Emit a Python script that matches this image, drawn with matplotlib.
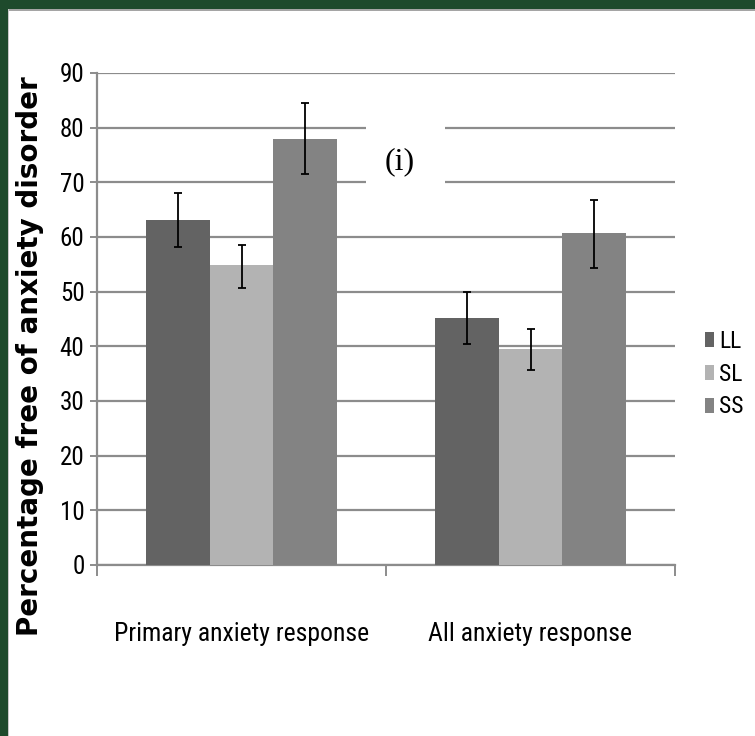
import numpy as np
import matplotlib.pyplot as plt
from matplotlib.patches import Rectangle
import logging

logging.getLogger("matplotlib.font_manager").setLevel(logging.ERROR)

categories = ["Primary anxiety response", "All anxiety response"]
series = ["LL", "SL", "SS"]
LL = [63.1, 45.2]
SL = [54.9, 39.6]
SS = [78.0, 60.8]
# error bar ends (lower, upper)
LL_lo = [58.1, 40.5]
LL_hi = [68.0, 50.0]
SL_lo = [50.7, 35.7]
SL_hi = [58.5, 43.2]
SS_lo = [71.6, 54.4]
SS_hi = [84.6, 66.8]
yticks = [0, 10, 20, 30, 40, 50, 60, 70, 80, 90]

colors = ["#636363", "#b3b3b3", "#838383"]
grid_col = "#8c8c8c"
narrow = ["Roboto Condensed", "Liberation Sans Narrow", "Lato", "DejaVu Sans"]

fig = plt.figure(figsize=(7.55, 7.36), dpi=100)
ax = fig.add_axes([97 / 755, 1 - 565 / 736, (675 - 97) / 755, (565 - 73) / 736])

x = np.arange(len(categories))
w = 0.22
vals = [LL, SL, SS]
lows = [LL_lo, SL_lo, SS_lo]
highs = [LL_hi, SL_hi, SS_hi]
for i, (name, v, lo, hi) in enumerate(zip(series, vals, lows, highs)):
    v = np.array(v)
    err = [v - np.array(lo), np.array(hi) - v]
    ax.bar(x + (i - 1) * w, v, w, color=colors[i], label=name, zorder=3,
           yerr=err, error_kw=dict(ecolor="black", elinewidth=1.3, capsize=3, capthick=1.3, zorder=4))

ax.set_xlim(-0.5, 1.5)
ax.set_ylim(0, 90)
ax.set_yticks(yticks)
ax.yaxis.grid(True, color=grid_col, linewidth=1.6, zorder=0)
ax.set_axisbelow(True)
for s in ["top", "right"]:
    ax.spines[s].set_visible(False)
ax.spines["left"].set_color(grid_col)
ax.spines["left"].set_linewidth(1.6)
ax.spines["bottom"].set_color(grid_col)
ax.spines["bottom"].set_linewidth(1.6)

ax.tick_params(axis="y", length=5, width=1.4, color=grid_col, pad=4, labelsize=18)
for lab in ax.get_yticklabels():
    lab.set_family(narrow)

ax.set_xticks(x)
ax.set_xticklabels(categories, family=narrow, fontsize=18.5)
ax.tick_params(axis="x", which="major", length=0, pad=41)
ax.set_xticks([-0.5, 0.5, 1.5], minor=True)
ax.tick_params(axis="x", which="minor", length=8, width=1.4, color=grid_col)

# white box behind the panel label, cutting the 70 and 80 gridlines
ax.add_patch(Rectangle((0.431, 67), 0.273, 16, facecolor="white", edgecolor="none", zorder=1))
ax.text(0.546, 73.8, "(i)", family=["Liberation Serif", "DejaVu Serif"], fontsize=23,
        ha="center", va="center", zorder=5)

fig.text(30 / 755, 1 - 356 / 736, "Percentage free of anxiety disorder", rotation=90,
         ha="center", va="center", fontsize=20, fontweight="bold", family="DejaVu Sans")

fig.legend(loc="center left", bbox_to_anchor=(705 / 755, 1 - 374 / 736), frameon=False,
           prop={"family": narrow, "size": 17}, handlelength=0.4, handleheight=0.6,
           handletextpad=0.2, labelspacing=0.42, borderpad=0, borderaxespad=0)

# green frame of the slide
fig.patches.append(Rectangle((0, 1 - 9 / 736), 1, 9 / 736, transform=fig.transFigure,
                             facecolor="#1e4a2c", edgecolor="none"))
fig.patches.append(Rectangle((8 / 755, 1 - 11 / 736), 1, 2 / 736, transform=fig.transFigure,
                             facecolor="#a5a5a5", edgecolor="none"))
fig.patches.append(Rectangle((0, 0), 7.5 / 755, 1, transform=fig.transFigure,
                             facecolor="#1e4a2c", edgecolor="none"))
fig.patches.append(Rectangle((7.5 / 755, 0), 1.5 / 755, 1 - 9 / 736, transform=fig.transFigure,
                             facecolor="#c8c8c8", edgecolor="none"))

fig.savefig("out.png", dpi=100)
